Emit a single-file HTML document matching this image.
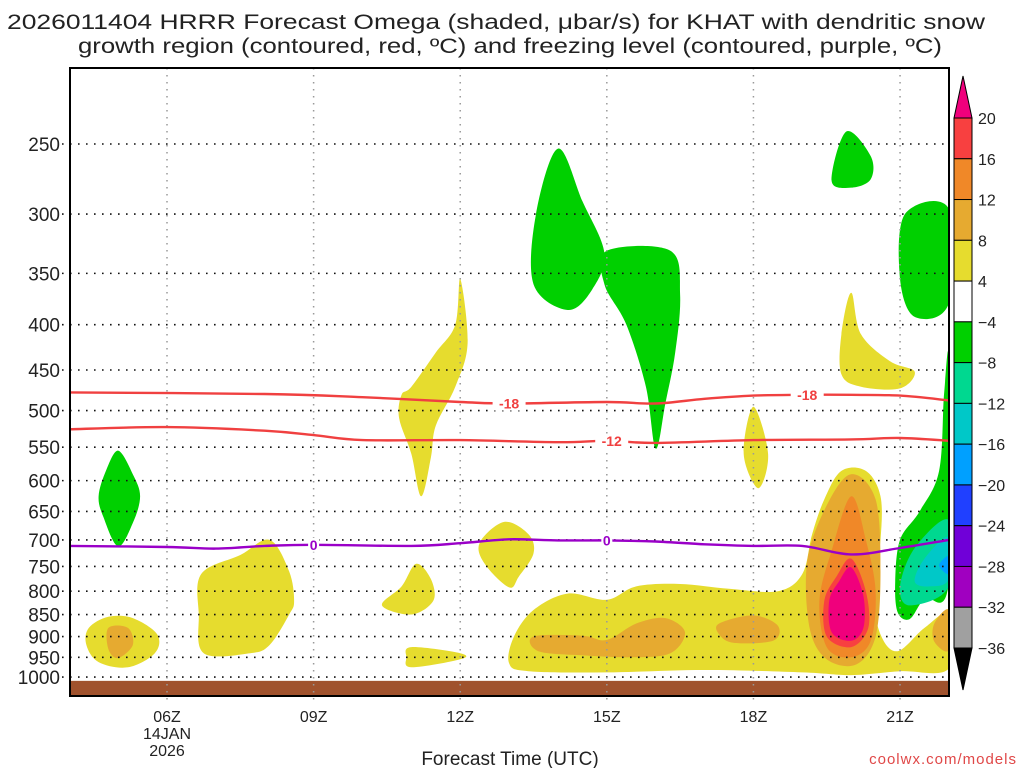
<!DOCTYPE html>
<html><head><meta charset="utf-8"><style>
html,body{margin:0;padding:0;background:#fff;width:1024px;height:768px;overflow:hidden}
svg text{font-family:"Liberation Sans",sans-serif;fill:#222}
</style></head><body>
<svg id="chart" width="1024" height="768" viewBox="0 0 1024 768" xmlns="http://www.w3.org/2000/svg">
<defs><clipPath id="clip"><rect x="70" y="68" width="879" height="628"/></clipPath></defs>
<text x="496" y="29" text-anchor="middle" font-size="21" textLength="978" lengthAdjust="spacingAndGlyphs">2026011404 HRRR Forecast Omega (shaded, μbar/s) for KHAT with dendritic snow</text>
<text x="510" y="53" text-anchor="middle" font-size="21" textLength="864" lengthAdjust="spacingAndGlyphs">growth region (contoured, red, ºC) and freezing level (contoured, purple, ºC)</text>
<g id="shade" clip-path="url(#clip)"></g>
<g id="grid"></g>
<g id="lines"></g>
<rect x="70" y="68" width="879" height="628" fill="none" stroke="#000" stroke-width="2"/>
<g id="axes"></g>
<g id="cbar"></g>
<text x="510" y="765" text-anchor="middle" font-size="19">Forecast Time (UTC)</text>
<text x="1017" y="764" text-anchor="end" font-size="15" style="fill:#e04848" letter-spacing="1">coolwx.com/models</text>
</svg>
<script>
const pressureTicks=[250,300,350,400,450,500,550,600,650,700,750,800,850,900,950,1000];
const hourTicks=[6,9,12,15,18,21];
const hourLabels=["06Z","09Z","12Z","15Z","18Z","21Z"];
const cbarLevels=[20,16,12,8,4,-4,-8,-12,-16,-20,-24,-28,-32,-36];
const cbarColors=["#f84040","#f08828","#e6aa30","#e6dc2e","#ffffff","#00d000","#00d890","#00c8c8","#00a0ff","#2040ff","#7000d8","#a000c0","#a0a0a0"];
// shaded regions: [hour, hPa]
const yellowMain=[[13.0,965],[13.1,900],[13.5,840],[14.2,805],[15.0,818],[15.6,790],[16.5,785],[17.5,795],[18.5,800],[19.0,765],[19.2,690],[19.45,630],[19.8,585],[20.3,585],[20.6,625],[20.6,700],[20.45,800],[20.6,895],[20.95,935],[21.5,880],[22.0,850],[22.0,978],[21.0,985],[20.0,995],[19.0,988],[17.0,982],[15.0,988],[13.4,985]];
const yellowA=[[4.4,880],[4.8,855],[5.3,858],[5.8,895],[5.75,940],[5.2,975],[4.6,962],[4.35,920]];
const yellowB=[[6.7,765],[7.5,728],[8.1,700],[8.5,760],[8.6,820],[8.5,850],[8.1,920],[7.7,940],[6.75,940],[6.65,850]];
const yellowC=[[11.0,470],[11.5,430],[11.9,400],[12.0,355],[12.15,420],[11.9,470],[11.5,520],[11.4,565],[11.2,625],[11.0,560],[10.75,510],[10.8,480]];
const yellowD=[[11.1,745],[11.4,775],[11.45,820],[11.0,850],[10.4,830],[10.8,790]];
const yellowE=[[11.0,925],[12.0,940],[12.0,955],[11.0,975],[10.9,950]];
const yellowF=[[12.4,705],[12.9,668],[13.4,690],[13.5,725],[13.2,770],[13.0,792],[12.5,745]];
const yellowG=[[18.0,495],[18.3,560],[18.1,612],[17.8,560]];
const yellowH=[[20.0,368],[20.2,410],[20.8,440],[21.3,452],[21.0,472],[20.2,470],[19.8,455],[19.8,410]];
const ltOrange=[[[4.8,880],[5.2,880],[5.3,920],[5.0,952],[4.8,930]],[[13.5,900],[14.5,898],[15.0,908],[15.6,870],[16.2,858],[16.6,890],[16.3,940],[15.5,950],[14.5,945],[13.6,935]],[[17.3,870],[18.0,852],[18.5,875],[18.4,910],[17.6,915],[17.3,895]],[[19.1,740],[19.5,640],[20.0,590],[20.5,630],[20.6,760],[20.5,900],[20.1,968],[19.5,955],[19.15,880]],[[21.7,870],[22,840],[22,932],[21.7,912]]];
const dkOrange=[[[20.0,625],[20.3,700],[20.5,800],[20.4,910],[20.0,950],[19.5,925],[19.35,820],[19.6,720]]];
const redArea=[[[20.0,735],[20.3,800],[20.35,880],[20.0,925],[19.5,900],[19.45,820],[19.7,770]]];
const magentaArea=[[[20.0,752],[20.25,810],[20.25,880],[20.0,910],[19.6,890],[19.55,820],[19.75,780]]];
const greenAreas=[[[5.0,555],[5.3,590],[5.45,625],[5.3,670],[5.0,712],[4.7,660],[4.6,625],[4.75,585]],[[14.0,253],[14.5,290],[14.95,332],[14.7,365],[14.2,385],[13.5,360],[13.55,300]],[[15.0,330],[16.3,330],[16.5,370],[16.4,430],[16.2,490],[16.0,552],[15.8,470],[15.4,400],[14.95,360]],[[19.9,242],[20.4,258],[20.4,274],[20.0,280],[19.6,275]],[[21.1,300],[22,296],[22,378],[21.3,392],[21.0,355]],[[21.9,480],[22,440],[22,780],[21.5,815],[21.2,860],[20.95,845],[20.9,780],[21.0,700],[21.4,650],[21.8,585]]];
const tealAreas=[[[22,665],[21.3,715],[21.0,790],[21.2,830],[22,790]]];
const cyanAreas=[[[22,695],[21.5,735],[21.3,780],[21.6,790],[22,775]]];
const blueAreas=[[[22,730],[21.8,748],[22,765]]];
// contour lines
const line18=[[4,477],[8,479],[10,483],[12,489],[13,491],[15,489],[16,491],[17,485],[18,481],[19,480],[20,480],[21,481],[22,487]];
const line12=[[4,525],[6,522],[8,527],[9,533],[10,540],[12,540],[14,543],[15,541],[16,544],[18,540],[20,539],[21,537],[22,541]];
const line0=[[4,711],[6,713],[7,716],[8,711],[9,709],[11,711],[12,706],[13,699],[14,701],[15,701],[16,703],[17,708],[18,711],[19,711],[20,727],[21,715],[22,700]];
const labels18=[[13.0,"-18"],[19.1,"-18"]];
const labels12=[[15.1,"-12"]];
const labels0=[[9.0,"0"],[15.0,"0"]];

const X0=70,X1=949,Y0=68,Y1=696;
const xs=h=>167+(h-6)*48.87;
const ys=p=>144+384.5*Math.log(p/250);
const NS="http://www.w3.org/2000/svg";
function mk(tag,attrs,parent){const e=document.createElementNS(NS,tag);for(const k in attrs)e.setAttribute(k,attrs[k]);parent.appendChild(e);return e;}
function smooth(pts,closed){
  const P=pts.map(d=>[xs(d[0]),ys(d[1])]);const n=P.length;let s="M"+P[0][0].toFixed(1)+","+P[0][1].toFixed(1);
  const m=closed?n:n-1;
  for(let i=0;i<m;i++){
    const p0=P[closed?(i-1+n)%n:Math.max(i-1,0)],p1=P[i],p2=P[(i+1)%n],p3=P[closed?(i+2)%n:Math.min(i+2,n-1)];
    const c1=[p1[0]+(p2[0]-p0[0])/6,p1[1]+(p2[1]-p0[1])/6],c2=[p2[0]-(p3[0]-p1[0])/6,p2[1]-(p3[1]-p1[1])/6];
    s+="C"+c1[0].toFixed(1)+","+c1[1].toFixed(1)+" "+c2[0].toFixed(1)+","+c2[1].toFixed(1)+" "+p2[0].toFixed(1)+","+p2[1].toFixed(1);
  }
  return s+(closed?"Z":"");
}
const sg=document.getElementById('shade');
function area(pts,color,nm){const e=mk('path',{d:smooth(pts,true),fill:color},sg);

}
[yellowMain,yellowA,yellowB,yellowC,yellowD,yellowE,yellowF,yellowG,yellowH].forEach(a=>area(a,"#e6dc2e","omega-4-8-area"));
ltOrange.forEach(a=>area(a,"#e6aa30","omega-8-12-area"));
dkOrange.forEach(a=>area(a,"#f08828","omega-12-16-area"));
redArea.forEach(a=>area(a,"#f84040","omega-16-20-area"));
magentaArea.forEach(a=>area(a,"#f0007c","omega-over-20-area"));
greenAreas.forEach(a=>area(a,"#00d000","omega-minus4-area"));
tealAreas.forEach(a=>area(a,"#00d890","omega-minus8-area"));
cyanAreas.forEach(a=>area(a,"#00c8c8","omega-minus12-area"));
blueAreas.forEach(a=>area(a,"#00a0ff","omega-minus16-area"));
const ground=mk('rect',{x:X0,y:ys(1010),width:X1-X0,height:Y1-ys(1010),fill:"#a0522d"},sg);



const grid=document.getElementById('grid'),axes=document.getElementById('axes');
pressureTicks.forEach(p=>{
  const l=mk('line',{x1:62,x2:X1,y1:ys(p),y2:ys(p),stroke:"#111","stroke-width":1.6,"stroke-dasharray":"1.6 6.4"},grid);
  
  
  const t=mk('text',{x:60,y:ys(p)+7,"text-anchor":"end","font-size":19},axes);t.textContent=p;
  
  
});
hourTicks.forEach((h,i)=>{
  const l=mk('line',{x1:xs(h),x2:xs(h),y1:Y0,y2:Y1+8,stroke:"#999","stroke-width":1.5,"stroke-dasharray":"1.5 5.5"},grid);
  
  
  const t=mk('text',{x:xs(h),y:722,"text-anchor":"middle","font-size":16},axes);t.textContent=hourLabels[i];
  
  
});
[["14JAN",739],["2026",756]].forEach(d=>{const t=mk('text',{x:xs(6),y:d[1],"text-anchor":"middle","font-size":16},axes);t.textContent=d[0];

});

const lineG=document.getElementById('lines');
function interpP(arr,h){for(let i=0;i<arr.length-1;i++){if(h>=arr[i][0]&&h<=arr[i+1][0]){const f=(h-arr[i][0])/(arr[i+1][0]-arr[i][0]);return arr[i][1]+f*(arr[i+1][1]-arr[i][1]);}}return arr[arr.length-1][1];}
function contour(arr,color,labs,nm){
  const p=mk('path',{d:smooth(arr,false),fill:"none",stroke:color,"stroke-width":2.4},lineG);
  
  
  labs.forEach(l=>{const x=xs(l[0]),y=ys(interpP(arr,l[0]));
    mk('rect',{x:x-l[1].length*5.5,y:y-7,width:l[1].length*11,height:14,fill:"#fff"},lineG);
    const t=mk('text',{x:x,y:y+5,"text-anchor":"middle","font-size":14,"font-weight":"bold",style:"fill:"+color},lineG);t.textContent=l[1];
    
    });
}
contour(line18,"#f04040",labels18,"minus18-isotherm");
contour(line12,"#f04040",labels12,"minus12-isotherm");
contour(line0,"#9a00c8",labels0,"freezing-level");

const cb=document.getElementById('cbar');const cbTop=118,cbBot=648,seg=(cbBot-cbTop)/(cbarColors.length),cx0=954,cx1=972;
cbarColors.forEach((c,i)=>{const r=mk('rect',{x:cx0,y:cbTop+i*seg,width:cx1-cx0,height:seg,fill:c,stroke:"#000","stroke-width":1},cb);

});
const tu=mk('polygon',{points:`${cx0},${cbTop} ${cx1},${cbTop} ${(cx0+cx1)/2},76`,fill:"#f0007c",stroke:"#000"},cb);


const td=mk('polygon',{points:`${cx0},${cbBot} ${cx1},${cbBot} ${(cx0+cx1)/2},690`,fill:"#000",stroke:"#000"},cb);


cbarLevels.forEach((v,i)=>{const t=mk('text',{x:978,y:cbTop+i*seg+6,"font-size":16},cb);t.textContent=v<0?"\u2212"+(-v):v;

});
</script>
</body></html>
